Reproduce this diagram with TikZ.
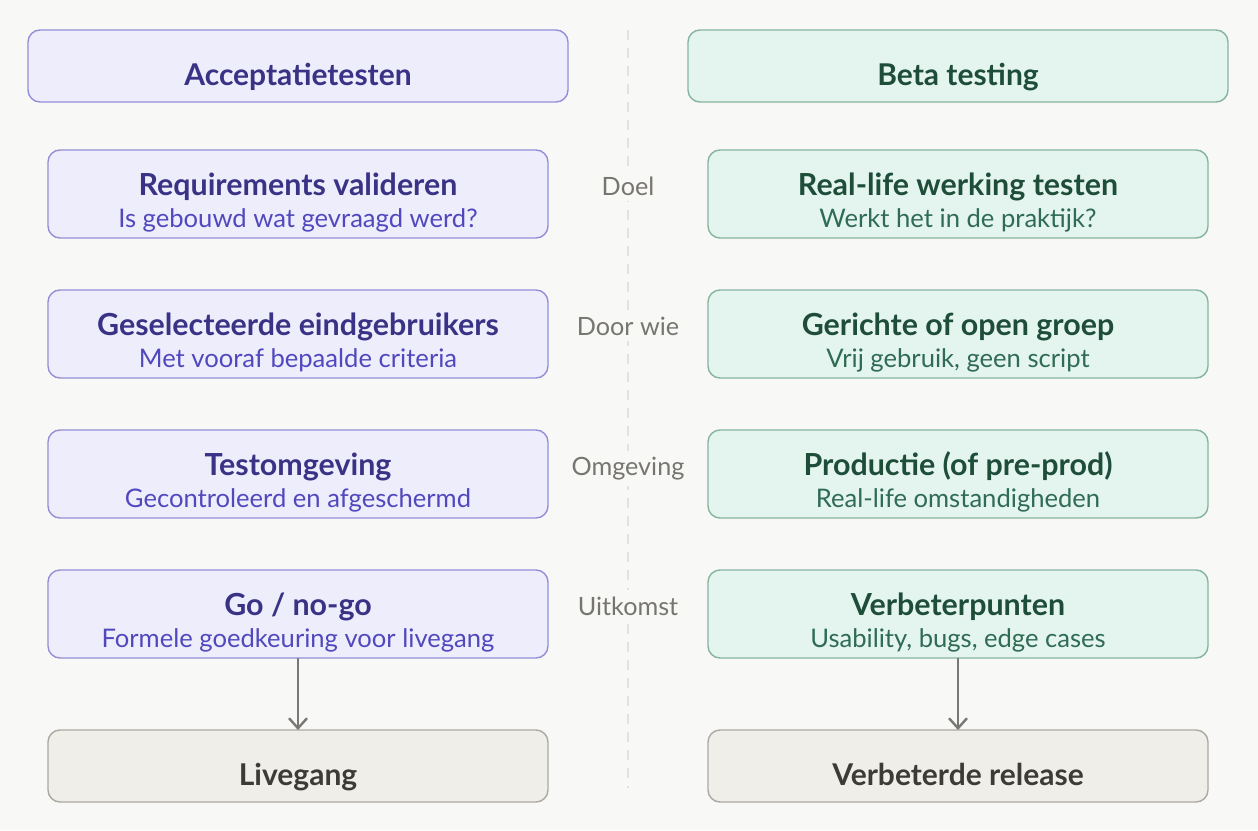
\documentclass[tikz,border=0pt]{standalone}
\usepackage{fontspec}
\setmainfont{Lato}
\usetikzlibrary{positioning,calc,arrows.meta}

\definecolor{pagebg}{HTML}{F8F8F6}
\definecolor{accfill}{HTML}{EEEDFC}
\definecolor{accdraw}{HTML}{958ED8}
\definecolor{acctext}{HTML}{3A3385}
\definecolor{accsub}{HTML}{5148BD}
\definecolor{betafill}{HTML}{E4F5EF}
\definecolor{betadraw}{HTML}{86B4A0}
\definecolor{betatext}{HTML}{1E4D3A}
\definecolor{betasub}{HTML}{2F6B55}
\definecolor{endfill}{HTML}{F0EEE9}
\definecolor{enddraw}{HTML}{ABA9A2}
\definecolor{endtext}{HTML}{3C3B37}
\definecolor{midtext}{HTML}{77756F}
\definecolor{dashgray}{HTML}{E3E2DE}
\definecolor{arrowgray}{HTML}{7A7874}

\begin{document}
\begin{tikzpicture}[
    header/.style={rectangle, rounded corners=6pt, minimum width=270pt, minimum height=36pt, line width=0.7pt, outer sep=0pt},
    row/.style={rectangle, rounded corners=6pt, minimum width=250pt, minimum height=44pt, line width=0.7pt, outer sep=0pt},
    accbox/.style={fill=accfill, draw=accdraw},
    betabox/.style={fill=betafill, draw=betadraw},
    endbox/.style={row, minimum height=36pt, fill=endfill, draw=enddraw},
    headtxt/.style={anchor=base, font=\fontsize{15}{18}\selectfont\bfseries},
    maintxt/.style={anchor=base, font=\fontsize{15.2}{18}\selectfont\bfseries},
    subtxt/.style={anchor=base, font=\fontsize{12.8}{16}\selectfont},
    midlbl/.style={anchor=base, fill=pagebg, inner xsep=1pt, inner ysep=3pt, text=midtext, font=\fontsize{12.6}{15}\selectfont},
    arrow/.style={line width=1.2pt, draw=arrowgray, -{Straight Barb[length=5pt,width=9pt]}}
]

% Page
\fill[pagebg] (0,0) rectangle (629pt,-415pt);

% Column headers
\node[header, accbox] (accL) at (149pt,-33pt) {};
\node[header, betabox, right=60pt of accL] (betaR) {};
\node[headtxt, text=acctext] (accLt) at ([yshift=-9.5pt]accL.center) {Acceptatietesten};
\node[headtxt, text=betatext] (betaRt) at ([yshift=-9.5pt]betaR.center) {Beta testing};

% Acceptatietesten column
\node[row, accbox, below=24pt of accL] (reqL) {};
\node[row, accbox, below=26pt of reqL] (wieL) {};
\node[row, accbox, below=26pt of wieL] (omgL) {};
\node[row, accbox, below=26pt of omgL] (uitL) {};
\node[endbox, below=36pt of uitL] (liveL) {};

% Beta testing column
\node[row, betabox, right=80pt of reqL] (reqR) {};
\node[row, betabox, right=80pt of wieL] (wieR) {};
\node[row, betabox, right=80pt of omgL] (omgR) {};
\node[row, betabox, right=80pt of uitL] (uitR) {};
\node[endbox, right=80pt of liveL] (relR) {};

% Box texts, left
\node[maintxt, text=acctext] (reqLt) at ([yshift=-0.5pt]reqL.center) {Requirements valideren};
\node[subtxt, text=accsub] (reqLs) at ([yshift=-16.5pt]reqL.center) {Is gebouwd wat gevraagd werd?};
\node[maintxt, text=acctext] (wieLt) at ([yshift=-0.5pt]wieL.center) {Geselecteerde eindgebruikers};
\node[subtxt, text=accsub] (wieLs) at ([yshift=-16.5pt]wieL.center) {Met vooraf bepaalde criteria};
\node[maintxt, text=acctext] (omgLt) at ([yshift=-0.5pt]omgL.center) {Testomgeving};
\node[subtxt, text=accsub] (omgLs) at ([yshift=-16.5pt]omgL.center) {Gecontroleerd en afgeschermd};
\node[maintxt, text=acctext] (uitLt) at ([yshift=-0.5pt]uitL.center) {Go / no-go};
\node[subtxt, text=accsub] (uitLs) at ([yshift=-16.5pt]uitL.center) {Formele goedkeuring voor livegang};
\node[headtxt, text=endtext] (liveLt) at ([yshift=-9.5pt]liveL.center) {Livegang};

% Box texts, right
\node[maintxt, text=betatext] (reqRt) at ([yshift=-0.5pt]reqR.center) {Real-life werking testen};
\node[subtxt, text=betasub] (reqRs) at ([yshift=-16.5pt]reqR.center) {Werkt het in de praktijk?};
\node[maintxt, text=betatext] (wieRt) at ([yshift=-0.5pt]wieR.center) {Gerichte of open groep};
\node[subtxt, text=betasub] (wieRs) at ([yshift=-16.5pt]wieR.center) {Vrij gebruik, geen script};
\node[maintxt, text=betatext] (omgRt) at ([yshift=-0.5pt]omgR.center) {Productie (of pre-prod)};
\node[subtxt, text=betasub] (omgRs) at ([yshift=-16.5pt]omgR.center) {Real-life omstandigheden};
\node[maintxt, text=betatext] (uitRt) at ([yshift=-0.5pt]uitR.center) {Verbeterpunten};
\node[subtxt, text=betasub] (uitRs) at ([yshift=-16.5pt]uitR.center) {Usability, bugs, edge cases};
\node[headtxt, text=endtext] (relRt) at ([yshift=-9.5pt]relR.center) {Verbeterde release};

% Divider
\draw[dashgray, line width=1pt, dash pattern=on 5pt off 4pt]
    ($(accL.north)!0.5!(betaR.north)$) -- ([yshift=7pt]$(liveL.south)!0.5!(relR.south)$);

% Row labels
\node[midlbl] (doel) at ([yshift=-0.5pt]$(reqL)!0.5!(reqR)$) {Doel};
\node[midlbl] (doorwie) at ([yshift=-0.5pt]$(wieL)!0.5!(wieR)$) {Door wie};
\node[midlbl] (omgeving) at ([yshift=-0.5pt]$(omgL)!0.5!(omgR)$) {Omgeving};
\node[midlbl] (uitkomst) at ([yshift=-0.5pt]$(uitL)!0.5!(uitR)$) {Uitkomst};

% Arrows
\draw[arrow] (uitL) -- (liveL);
\draw[arrow] (uitR) -- (relR);

\end{tikzpicture}
\end{document}
